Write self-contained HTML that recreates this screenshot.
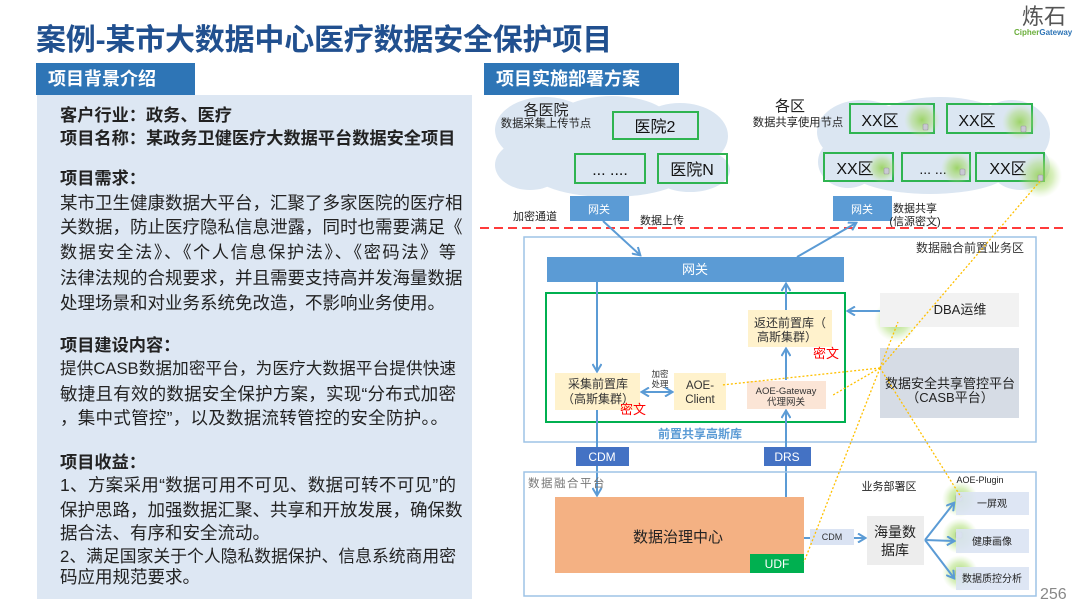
<!DOCTYPE html>
<html><head><meta charset="utf-8">
<style>
*{margin:0;padding:0;box-sizing:border-box}
body{width:1080px;height:608px;background:#fff;position:relative;overflow:hidden;font-family:"Liberation Sans","Noto Sans CJK SC",sans-serif;color:#222}
.t{position:absolute;white-space:nowrap}
.title{left:36px;top:22px;font-size:30px;font-weight:bold;color:#21508f;line-height:38px;letter-spacing:-0.2px}
.hdr{position:absolute;background:#2e75b6;color:#fff;font-weight:bold;font-size:18px;line-height:32px;padding-left:12px}
.panel{position:absolute;left:37px;top:95px;width:435px;height:504px;background:#dde7f3}
.b{font-weight:bold;font-size:17.2px;line-height:24px;left:60px}
.n{font-size:17.5px;line-height:24px;left:60px}
.j{width:396px;text-align:justify;text-align-last:justify}
svg{position:absolute;left:0;top:0}
</style></head><body>
<div class="t title">案例-某市大数据中心医疗数据安全保护项目</div>
<div class="t" style="left:1022px;top:5px;font-size:22px;color:#555;line-height:24px;">炼石</div>
<div class="t" style="left:1014px;top:28px;font-size:8px;font-weight:bold;line-height:9px;"><span style="color:#6aae3a">Cipher</span><span style="color:#2e75b6">Gateway</span></div>

<div class="hdr" style="left:36px;top:63px;width:159px;height:32px;">项目背景介绍</div>
<div class="hdr" style="left:484px;top:63px;width:195px;height:32px;">项目实施部署方案</div>

<div class="panel"></div>
<div class="t b" style="top:103px">客户行业：政务、医疗</div>
<div class="t b" style="top:126px">项目名称：某政务卫健医疗大数据平台数据安全项目</div>
<div class="t b" style="top:166px">项目需求：</div>
<div class="t n j" style="top:191px">某市卫生健康数据大平台，汇聚了多家医院的医疗相</div>
<div class="t n j" style="top:215px">关数据，防止医疗隐私信息泄露，同时也需要满足《</div>
<div class="t n j" style="top:241px;font-size:17.1px">数据安全法》、《个人信息保护法》、《密码法》等</div>
<div class="t n j" style="top:266px">法律法规的合规要求，并且需要支持高并发海量数据</div>
<div class="t n" style="top:291px">处理场景和对业务系统免改造，不影响业务使用。</div>
<div class="t b" style="top:333px">项目建设内容：</div>
<div class="t n j" style="top:357px;font-size:16.6px">提供CASB数据加密平台，为医疗大数据平台提供快速</div>
<div class="t n j" style="top:382px">敏捷且有效的数据安全保护方案，实现“分布式加密</div>
<div class="t n" style="top:406px;width:388px;text-align:justify;text-align-last:justify">，集中式管控”，以及数据流转管控的安全防护。。</div>
<div class="t b" style="top:450px">项目收益：</div>
<div class="t n j" style="top:473px">1、方案采用“数据可用不可见、数据可转不可见”的</div>
<div class="t n j" style="top:498px">保护思路，加强数据汇聚、共享和开放发展，确保数</div>
<div class="t n" style="top:521px">据合法、有序和安全流动。</div>
<div class="t n j" style="top:545px;font-size:16.8px">2、满足国家关于个人隐私数据保护、信息系统商用密</div>
<div class="t n" style="top:565px">码应用规范要求。</div>

<svg width="1080" height="608" viewBox="0 0 1080 608" font-family="Liberation Sans, Noto Sans CJK SC, sans-serif">
<defs>
<radialGradient id="g"><stop offset="0" stop-color="#92d050" stop-opacity="0.85"/><stop offset="0.6" stop-color="#a9dc6e" stop-opacity="0.45"/><stop offset="1" stop-color="#c5e8a0" stop-opacity="0"/></radialGradient>
<marker id="a" markerWidth="10" markerHeight="10" refX="8" refY="5" orient="auto" markerUnits="userSpaceOnUse"><path d="M1,0.5 L8.5,5 L1,9.5" fill="none" stroke="#5b9bd5" stroke-width="2"/></marker>
<marker id="as" markerWidth="10" markerHeight="10" refX="2" refY="5" orient="auto" markerUnits="userSpaceOnUse"><path d="M9,0.5 L1.5,5 L9,9.5" fill="none" stroke="#5b9bd5" stroke-width="2"/></marker>
</defs>

<!-- clouds -->
<g fill="#dbe6f2">
<ellipse cx="545" cy="130" rx="50" ry="33"/><ellipse cx="612" cy="126" rx="62" ry="30"/><ellipse cx="680" cy="136" rx="48" ry="33"/>
<ellipse cx="530" cy="165" rx="35" ry="25"/><ellipse cx="610" cy="170" rx="80" ry="27"/><ellipse cx="690" cy="170" rx="40" ry="22"/>
<ellipse cx="862" cy="132" rx="45" ry="32"/><ellipse cx="940" cy="126" rx="70" ry="29"/><ellipse cx="1012" cy="134" rx="38" ry="34"/>
<ellipse cx="848" cy="162" rx="30" ry="26"/><ellipse cx="930" cy="170" rx="80" ry="24"/><ellipse cx="1020" cy="166" rx="30" ry="24"/>
</g>
<text x="546" y="115" font-size="15" text-anchor="middle" fill="#222">各医院</text>
<text x="546" y="127" font-size="11.3" text-anchor="middle" fill="#222">数据采集上传节点</text>
<text x="790" y="111" font-size="15" text-anchor="middle" fill="#222">各区</text>
<text x="798" y="126" font-size="11.3" text-anchor="middle" fill="#222">数据共享使用节点</text>

<g fill="none" stroke="#2fb451" stroke-width="2">
<rect x="613" y="112" width="85" height="27"/><rect x="575" y="154" width="70" height="29"/><rect x="658" y="154" width="69" height="29"/>
<rect x="850" y="104" width="84" height="29"/><rect x="947" y="104" width="85" height="29"/>
<rect x="824" y="153" width="69" height="28"/><rect x="902" y="153" width="68" height="28"/><rect x="976" y="153" width="68" height="28"/>
</g>
<g font-size="16" fill="#111" text-anchor="middle">
<text x="655" y="132">医院2</text><text x="610" y="175">... ....</text><text x="692" y="175">医院N</text>
<text x="880" y="126">XX区</text><text x="977" y="126">XX区</text>
<text x="855" y="174">XX区</text><text x="933" y="174" font-size="14">... ...</text><text x="1008" y="174">XX区</text>
</g>
<!-- glows -->
<g fill="url(#g)">
<circle cx="922" cy="120" r="18"/><circle cx="1020" cy="122" r="18"/><circle cx="882" cy="168" r="15"/><circle cx="957" cy="168" r="16"/><circle cx="1040" cy="176" r="22"/>
<circle cx="896" cy="320" r="22"/><circle cx="960" cy="499" r="18"/><circle cx="960" cy="536" r="18"/><circle cx="960" cy="573" r="18"/>
</g>
<g fill="#c9c9d3" stroke="#999" stroke-width="0.6">
<rect x="923" y="124" width="5" height="6" rx="1"/><rect x="1021" y="126" width="5" height="6" rx="1"/><rect x="884" y="168" width="5" height="6" rx="1"/>
<rect x="960" y="169" width="5" height="6" rx="1"/><rect x="1038" y="175" width="5" height="6" rx="1"/><rect x="895" y="317" width="6" height="6" rx="1"/>
<rect x="956" y="495" width="6" height="6" rx="1"/><rect x="956" y="532" width="6" height="6" rx="1"/><rect x="956" y="570" width="6" height="6" rx="1"/>
</g>

<!-- gateways top -->
<rect x="570" y="196" width="59" height="25" fill="#5b9bd5"/><text x="599" y="213" font-size="11" fill="#fff" text-anchor="middle">网关</text>
<rect x="833" y="196" width="59" height="25" fill="#5b9bd5"/><text x="862" y="213" font-size="11" fill="#fff" text-anchor="middle">网关</text>
<text x="535" y="220" font-size="11" fill="#222" text-anchor="middle">加密通道</text>
<text x="662" y="224" font-size="11" fill="#222" text-anchor="middle">数据上传</text>
<text x="915" y="212" font-size="11" fill="#222" text-anchor="middle">数据共享</text>
<text x="915" y="225" font-size="11" fill="#222" text-anchor="middle">(信源密文)</text>
<line x1="480" y1="228" x2="1066" y2="228" stroke="#ff3b3b" stroke-width="2" stroke-dasharray="9,5"/>

<!-- front zone -->
<rect x="524" y="237" width="512" height="205" fill="none" stroke="#9dc3e6" stroke-width="1.5"/>
<text x="1024" y="252" font-size="12" fill="#333" text-anchor="end">数据融合前置业务区</text>
<rect x="547" y="257" width="297" height="25" fill="#5b9bd5"/>
<text x="695" y="274" font-size="13" fill="#fff" text-anchor="middle">网关</text>
<rect x="546" y="293" width="299" height="129" fill="none" stroke="#00b050" stroke-width="2"/>
<text x="700" y="438" font-size="12" font-weight="bold" fill="#5b9bd5" text-anchor="middle">前置共享高斯库</text>

<rect x="555" y="373" width="85" height="37" fill="#fff2cc"/>
<text x="598" y="388" font-size="12" fill="#333" text-anchor="middle">采集前置库</text>
<text x="598" y="403" font-size="12" fill="#333" text-anchor="middle">（高斯集群）</text>
<rect x="674" y="373" width="52" height="37" fill="#fff2cc"/>
<text x="700" y="389" font-size="11.5" fill="#333" text-anchor="middle">AOE-</text>
<text x="700" y="403" font-size="11.5" fill="#333" text-anchor="middle">Client</text>
<rect x="747" y="381" width="79" height="28" fill="#fbe5d6"/>
<text x="786" y="394" font-size="9.5" fill="#333" text-anchor="middle">AOE-Gateway</text>
<text x="786" y="405" font-size="9.5" fill="#333" text-anchor="middle">代理网关</text>
<rect x="748" y="310" width="84" height="37" fill="#fff2cc"/>
<text x="790" y="327" font-size="12" fill="#333" text-anchor="middle">返还前置库（</text>
<text x="787" y="341" font-size="12" fill="#333" text-anchor="middle">高斯集群）</text>
<text x="633" y="414" font-size="13" fill="#ff0000" text-anchor="middle">密文</text>
<text x="826" y="358" font-size="13" fill="#ff0000" text-anchor="middle">密文</text>
<text x="660" y="377" font-size="8.5" fill="#333" text-anchor="middle">加密</text>
<text x="660" y="387" font-size="8.5" fill="#333" text-anchor="middle">处理</text>

<rect x="880" y="293" width="139" height="34" fill="#f2f2f2"/>
<text x="960" y="314" font-size="13" fill="#222" text-anchor="middle">DBA运维</text>
<rect x="880" y="348" width="139" height="70" fill="#d6dce5"/>
<text x="950" y="388" font-size="13" fill="#222" text-anchor="middle">数据安全共享管控平台</text>
<text x="950" y="402" font-size="13" fill="#222" text-anchor="middle">（CASB平台）</text>

<!-- arrows -->
<g stroke="#5b9bd5" stroke-width="2" fill="none">
<line x1="603" y1="221" x2="640" y2="255" marker-end="url(#a)"/>
<line x1="797" y1="257" x2="856" y2="223" marker-end="url(#a)"/>
<line x1="597" y1="282" x2="597" y2="371" marker-end="url(#a)"/>
<line x1="786" y1="310" x2="786" y2="284" marker-end="url(#a)"/>
<line x1="786" y1="380" x2="786" y2="349" marker-end="url(#a)"/>
<line x1="786" y1="497" x2="786" y2="411" marker-end="url(#a)"/>
<line x1="597" y1="410" x2="597" y2="495" marker-end="url(#a)"/>
<line x1="880" y1="311" x2="848" y2="311" marker-end="url(#a)"/>
<line x1="642" y1="392" x2="672" y2="392" marker-end="url(#a)" marker-start="url(#as)"/>
<line x1="804" y1="538" x2="865" y2="538" marker-end="url(#a)"/>
<line x1="925" y1="540" x2="954" y2="503" marker-end="url(#a)"/>
<line x1="925" y1="540" x2="954" y2="541" marker-end="url(#a)"/>
<line x1="925" y1="540" x2="954" y2="578" marker-end="url(#a)"/>
</g>

<!-- bottom -->
<rect x="576" y="447" width="53" height="19" fill="#4472c4"/><text x="602" y="461" font-size="12" fill="#fff" text-anchor="middle">CDM</text>
<rect x="764" y="447" width="47" height="19" fill="#4472c4"/><text x="787" y="461" font-size="12" fill="#fff" text-anchor="middle">DRS</text>
<rect x="524" y="472" width="512" height="124" fill="none" stroke="#9dc3e6" stroke-width="1.5"/>
<text x="528" y="487" font-size="11.5" fill="#777" letter-spacing="1.5">数据融合平台</text>
<rect x="555" y="497" width="249" height="76" fill="#f4b183"/>
<text x="678" y="542" font-size="15" fill="#222" text-anchor="middle">数据治理中心</text>
<rect x="750" y="554" width="54" height="19" fill="#00b050"/><text x="777" y="568" font-size="12" fill="#fff" text-anchor="middle">UDF</text>
<rect x="810" y="529" width="44" height="16" fill="#dae3f3"/><text x="832" y="540" font-size="9" fill="#333" text-anchor="middle">CDM</text>
<rect x="867" y="516" width="57" height="49" fill="#ededed"/>
<text x="895" y="537" font-size="14" fill="#222" text-anchor="middle">海量数</text>
<text x="895" y="555" font-size="14" fill="#222" text-anchor="middle">据库</text>
<text x="889" y="490" font-size="11" fill="#222" text-anchor="middle">业务部署区</text>
<text x="980" y="483" font-size="9" fill="#222" text-anchor="middle">AOE-Plugin</text>
<rect x="956" y="492" width="73" height="23" fill="#dae3f3" fill-opacity="0.9"/><text x="992" y="507" font-size="10" fill="#222" text-anchor="middle">一屏观</text>
<rect x="956" y="529" width="73" height="24" fill="#dae3f3" fill-opacity="0.9"/><text x="992" y="545" font-size="10" fill="#222" text-anchor="middle">健康画像</text>
<rect x="956" y="567" width="73" height="23" fill="#dae3f3" fill-opacity="0.9"/><text x="992" y="582" font-size="10" fill="#222" text-anchor="middle">数据质控分析</text>
<text x="1040" y="599" font-size="16" fill="#888">256</text>

<!-- dotted control lines -->
<g stroke="#ffc000" stroke-width="1.3" stroke-dasharray="2,2" fill="none">
<line x1="880" y1="368" x2="1041" y2="180"/>
<line x1="880" y1="368" x2="804" y2="562"/>
<line x1="880" y1="368" x2="961" y2="497"/>
<line x1="880" y1="368" x2="898" y2="322"/>
<line x1="880" y1="368" x2="722" y2="385"/>
<line x1="880" y1="368" x2="833" y2="395"/>
</g>
</svg>
</body></html>
